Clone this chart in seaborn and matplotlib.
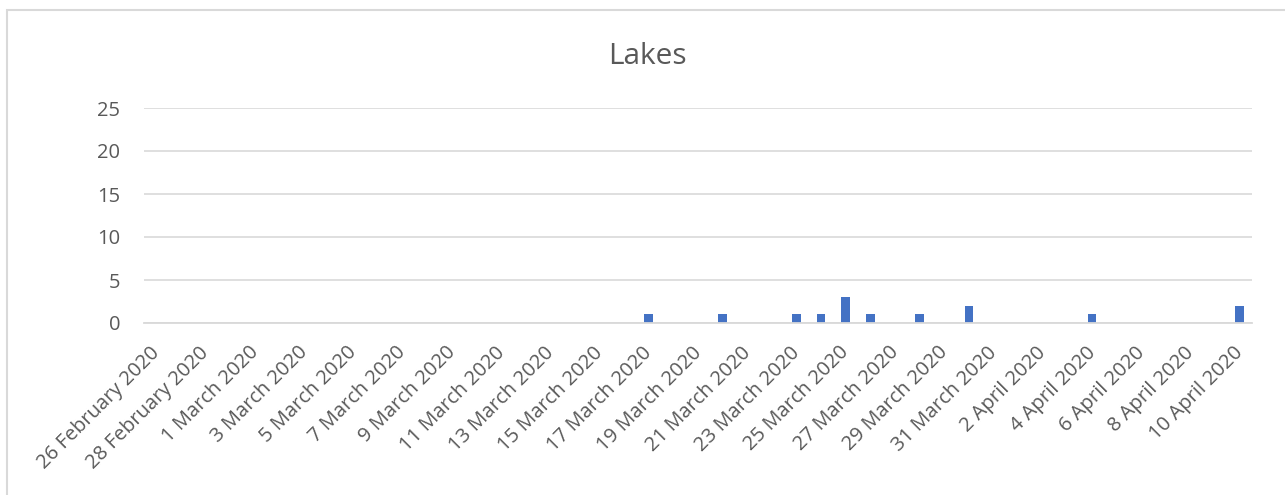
"""
Lakes — contagens diárias (26 Fev a 10 Abr 2020), estilo gráfico Excel.
"""

import matplotlib
matplotlib.use("Agg")
import matplotlib.pyplot as plt
from matplotlib.patches import Rectangle
import pandas as pd
import seaborn as sns

# ── Dados ──────────────────────────────────────────────────────────────────
START_DATE = "2020-02-26"
END_DATE = "2020-04-10"
event_dates = ["2020-03-17", "2020-03-20", "2020-03-23", "2020-03-24",
               "2020-03-25", "2020-03-26", "2020-03-28", "2020-03-30",
               "2020-04-04", "2020-04-10"]
event_counts = [1, 1, 1, 1, 3, 1, 1, 2, 1, 2]
y_ticks = [0, 5, 10, 15, 20, 25]
title = "Lakes"

BAR_COLOR = "#4472C4"
TEXT_COLOR = "#595959"
GRID_COLOR = "#D9D9D9"

# dias sem registo ficam a zero
days = pd.date_range(START_DATE, END_DATE, freq="D")
counts = pd.Series(event_counts, index=pd.to_datetime(event_dates))
df = pd.DataFrame({"day": days, "count": counts.reindex(days, fill_value=0).values})
df["label"] = [f"{d.day} {d.strftime('%B')} {d.year}" for d in df["day"]]

sns.set_theme(style="white")
plt.rcParams["font.family"] = ["Open Sans", "DejaVu Sans"]

fig = plt.figure(figsize=(12.85, 4.95), dpi=100)
ax = fig.add_axes([144 / 1285, 1 - 323 / 495, (1252 - 144) / 1285, (323 - 108) / 495])

sns.barplot(data=df, x="label", y="count", color=BAR_COLOR, width=0.35,
            saturation=1, ax=ax, edgecolor="none")

n = len(df)
ax.set_xlim(-0.5, n - 0.5)
ax.set_ylim(0, 25)
ax.set_yticks(y_ticks)
ax.set_yticklabels([str(v) for v in y_ticks], fontsize=14.5, color=TEXT_COLOR)
ax.tick_params(axis="y", length=0, pad=17)
ax.grid(axis="y", color=GRID_COLOR, linewidth=1.2)
ax.set_axisbelow(True)

# marcas de escala nos limites de cada par de dias
tick_pos = [i - 0.5 for i in range(0, n, 2)]
ax.set_xticks(tick_pos)
ax.set_xticklabels([""] * len(tick_pos))
ax.tick_params(axis="x", length=6, width=1.3, color=GRID_COLOR, direction="out")
for i in range(0, n, 2):
    ax.text(i + 0.02, -3.1, df["label"].iloc[i], rotation=45, ha="right",
            va="center", rotation_mode="anchor", fontsize=14.5, color=TEXT_COLOR)

ax.set_xlabel("")
ax.set_ylabel("")
for side in ["top", "right", "left"]:
    ax.spines[side].set_visible(False)
ax.spines["bottom"].set_color(GRID_COLOR)
ax.spines["bottom"].set_linewidth(1.3)

fig.text(647 / 1285, 1 - 64 / 495, title, ha="center", va="baseline",
         fontsize=21.5, color=TEXT_COLOR)

# moldura da área do gráfico
fig.patches.append(Rectangle((7 / 1285, -0.05), 1.1, 1 - 9.5 / 495 + 0.05,
                             transform=fig.transFigure, fill=False,
                             edgecolor=GRID_COLOR, linewidth=1.5))

fig.savefig("out.png", dpi=100)
plt.close(fig)
